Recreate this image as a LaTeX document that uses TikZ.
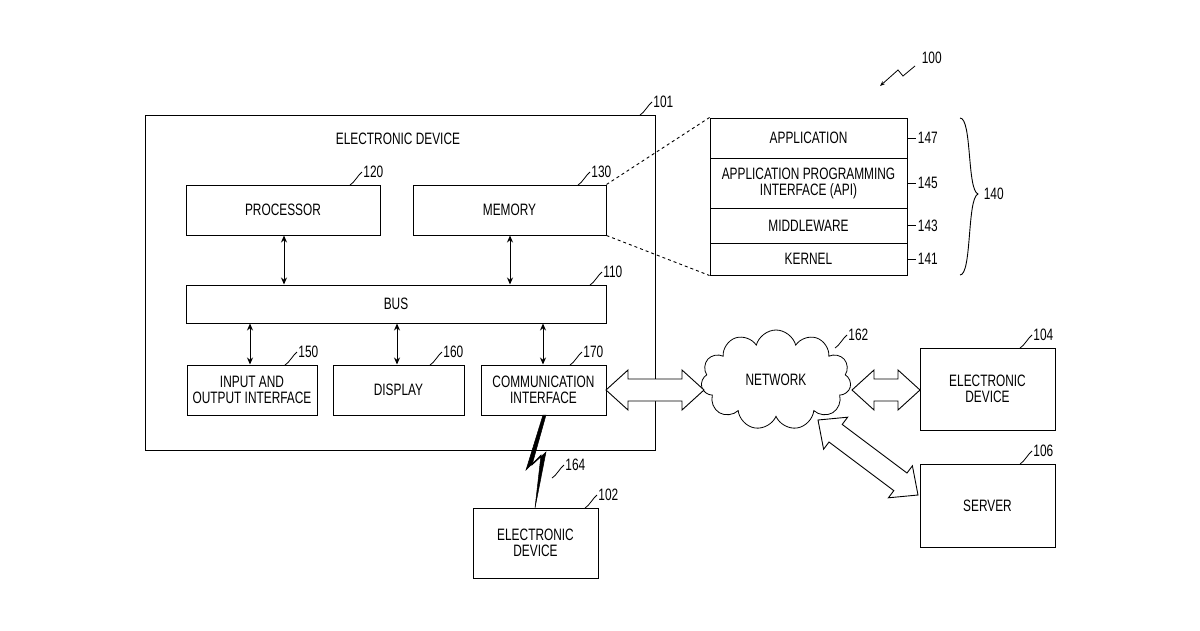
\documentclass[tikz,border=0pt]{standalone}
\usepackage{fontspec}
\setmainfont{Liberation Sans}[FakeStretch=0.72]
\usetikzlibrary{shapes.symbols,arrows.meta}
\begin{document}
\begin{tikzpicture}[x=1pt,y=-1pt,font=\fontsize{16.5}{16}\selectfont,line width=1pt,
  bx/.style={draw,rectangle,inner sep=0pt,align=center},
  dbl/.style={<->,>={Stealth[length=7pt,width=6pt]},line width=1pt},
  pics/fatarrow/.style={code={\draw[fill=white,line width=0.9pt] (0,0)--(22,20)--(22,11)--({#1-22},11)--({#1-22},20)--(#1,0)--({#1-22},-20)--({#1-22},-11)--(22,-11)--(22,-20)--cycle;}}]
\newcommand\reftag[3]{\draw[line width=0.8pt] (#1,#2) .. controls +(4,-2) and +(-4,3) .. +(12,-13) node[anchor=west,inner sep=1pt]{#3};}
\useasboundingbox (0,0) rectangle (1200,630);
% outer device
\node[bx,minimum width=510,minimum height=335] (dev) at (400,282.5) {};
\node (devt) at (398,139) {ELECTRONIC DEVICE};
\reftag{640}{115}{101}
\node[bx,minimum width=194,minimum height=50] (proc) at (283,210) {PROCESSOR};
\reftag{350}{185}{120}
\node[bx,minimum width=193,minimum height=50] (mem) at (509.5,210) {MEMORY};
\reftag{578}{185}{130}
\node[bx,minimum width=420,minimum height=38] (bus) at (396,304) {BUS};
\reftag{590}{285}{110}
\node[bx,minimum width=130,minimum height=50] (io) at (252,390) {INPUT AND\\OUTPUT INTERFACE};
\reftag{285}{365}{150}
\node[bx,minimum width=131,minimum height=50] (disp) at (398.5,390) {DISPLAY};
\reftag{430}{365}{160}
\node[bx,minimum width=125,minimum height=50] (comm) at (543.5,390) {COMMUNICATION\\INTERFACE};
\reftag{570}{365}{170}
\draw[dbl] (proc.south -| 284,0) -- (bus.north -| 284,0);
\draw[dbl] (mem.south -| 510,0) -- (bus.north -| 510,0);
\draw[dbl] (bus.south -| 250,0) -- (io.north -| 250,0);
\draw[dbl] (bus.south -| 397,0) -- (disp.north -| 397,0);
\draw[dbl] (bus.south -| 543,0) -- (comm.north -| 543,0);
% stack
\node[bx,minimum width=197,minimum height=40] (app) at (808.5,138) {APPLICATION};
\node[bx,minimum width=197,minimum height=50] (api) at (808.5,183) {APPLICATION PROGRAMMING\\INTERFACE (API)};
\node[bx,minimum width=197,minimum height=35] (mid) at (808.5,225.5) {MIDDLEWARE};
\node[bx,minimum width=197,minimum height=32] (ker) at (808.5,259) {KERNEL};
\foreach \n/\t in {app/147,api/145,mid/143,ker/141}{
  \draw[line width=0.8pt] (\n.east) -- +(8,0) node[anchor=west,inner sep=2pt]{\t};}
\draw[line width=0.9pt] (960,118) .. controls (972,118) and (967,190) .. (978,194) .. controls (967,198) and (972,275) .. (960,275);
\node[anchor=west] (n140) at (980,194) {140};
\draw[dashed,line width=0.9pt] (mem.north east) -- (app.north west);
\draw[dashed,line width=0.9pt] (mem.south east) -- (ker.south west);
% 100
\node[anchor=west] (n100) at (918,58) {100};
\draw[line width=0.8pt,->,>={Stealth[length=5pt]}] (915,66) -- (903,76) -- (898,70) -- (880,86);
% network
\node[cloud,draw,cloud puffs=11,aspect=1.5,minimum width=150,minimum height=100,line width=0.8pt] (net) at (776,380) {NETWORK};
\reftag{835}{348}{162}
\node[bx,minimum width=135,minimum height=82] (e104) at (987.5,389) {ELECTRONIC\\DEVICE};
\reftag{1020}{348}{104}
\node[bx,minimum width=135,minimum height=83] (srv) at (987.5,505.5) {SERVER};
\reftag{1020}{464}{106}
\node[bx,minimum width=125,minimum height=70] (e102) at (535.5,543) {ELECTRONIC\\DEVICE};
\reftag{585}{508}{102}
\pic at (606,390) {fatarrow=98};
\pic at (852,390) {fatarrow=68};
\pic[rotate=-36.87] at (818,420) {fatarrow=125};
% lightning
\draw[fill=black,line width=0.5pt] (543,415) -- (526,470) -- (541,455) -- (535,508) -- (546,452) -- (532,465) -- (546,415) -- cycle;
\reftag{552}{478}{164}
\end{tikzpicture}
\end{document}
